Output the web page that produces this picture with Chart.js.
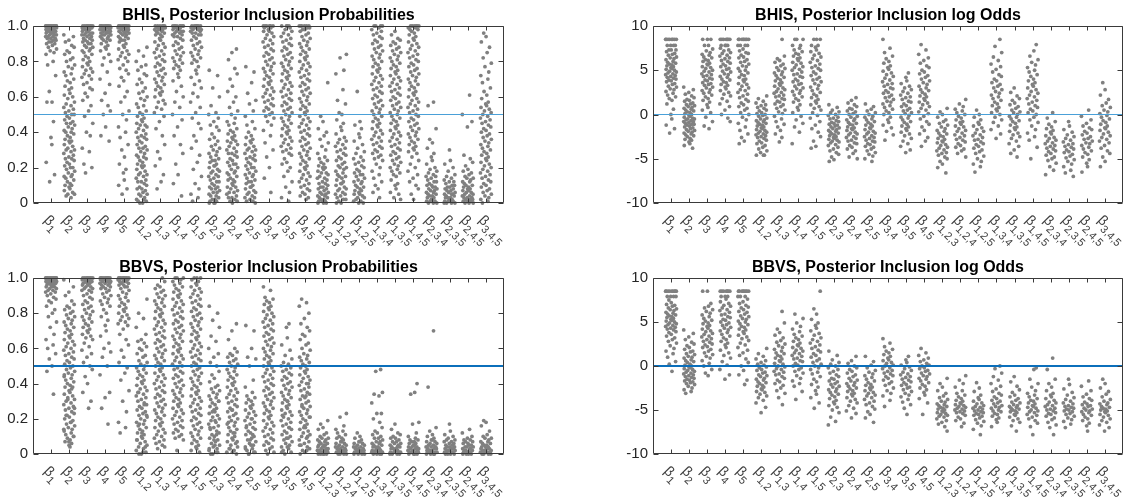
<!DOCTYPE html>
<html>
<head>
<meta charset="utf-8">
<title>Posterior inclusion</title>
<script src="https://cdn.jsdelivr.net/npm/chart.js@4.4.0/dist/chart.umd.min.js"></script>
<style>
  html, body { margin: 0; padding: 0; background: #fff; }
  #wrap { position: relative; width: 1127px; height: 501px; overflow: hidden; }
  #wrap canvas { position: absolute; }
</style>
</head>
<body>
<div id="wrap">
  <canvas id="bhisProbChart" width="563" height="250" style="left:0;top:0"></canvas>
  <canvas id="bhisOddsChart" width="564" height="250" style="left:563px;top:0"></canvas>
  <canvas id="bbvsProbChart" width="563" height="251" style="left:0;top:250px"></canvas>
  <canvas id="bbvsOddsChart" width="564" height="251" style="left:563px;top:250px"></canvas>
</div>
<script>
// subscripts of the model terms, in axis order
const terms = ['1','2','3','4','5','1,2','1,3','1,4','1,5','2,3','2,4','2,5','3,4','3,5','4,5',
  '1,2,3','1,2,4','1,2,5','1,3,4','1,3,5','1,4,5','2,3,4','2,3,5','2,4,5','3,4,5'];

const probTicks = [0, 0.2, 0.4, 0.6, 0.8, 1];
const oddsTicks = [-10, -5, 0, 5, 10];

// sideways offsets (in tick units) cycled through the replicates of a term
const jitter = [0.04,-0.27,0.19,-0.08,0.29,-0.17,0.1,-0.3,0.23,-0.02,-0.21,0.14,0.27,-0.12,0.01,
  -0.25,0.2,0.07,-0.15,0.3,-0.05,0.16,-0.28,0.11,-0.19,0.25,-0.1,0.05,-0.23,0.13,-0.01];

// BHIS posterior inclusion probabilities (percent), one list of replicates per term
const bhisProbPct = [
  [100,100,100,100,100,100,100,100,100,100,100,100,100,100,99,99,99,99,99,99,98,98,98,98,98,97,97,97,97,96,96,96,96,95,95,95,94,94,94,93,93,93,92,92,91,91,90,90,89,88,87,86,85,84,80,78,72,63,57,57,46,37,33,23,16,12],
  [95,94,92,91,89,88,86,85,84,82,81,80,78,77,76,74,73,72,70,69,68,66,65,64,62,61,60,59,57,56,55,54,53,52,51,50,50,49,48,47,46,45,45,44,43,42,41,40,40,39,38,37,36,35,35,34,33,32,31,30,30,29,28,27,26,25,25,24,23,22,21,20,20,19,18,17,16,15,15,14,13,12,11,10,10,9,8,7,6,5,5,4,3],
  [100,100,100,100,100,100,100,100,99,99,99,99,98,98,98,98,97,97,97,96,96,96,95,95,95,94,94,93,93,92,92,91,91,90,90,89,88,88,87,86,86,85,84,83,82,81,80,79,78,77,76,75,74,73,72,71,70,68,67,65,64,62,60,58,55,52,49,45,40,38,31,29,22,20,17],
  [100,100,100,100,100,100,100,100,100,100,100,100,99,99,99,99,99,98,98,98,98,97,97,97,97,96,96,96,95,95,95,94,94,93,93,92,92,91,90,89,88,87,86,84,82,80,78,74,70,67,62,58,55,52,50,43,38,35],
  [100,100,100,100,100,100,100,100,100,100,99,99,99,99,98,98,98,97,97,97,96,96,96,95,95,94,94,93,93,92,92,91,90,89,88,87,86,85,84,83,82,81,80,78,76,75,73,71,69,66,63,60,57,52,50,47,43,40,37,33,30,26,22,19,17,13,10,8,5],
  [88,86,83,80,78,77,75,73,72,70,68,67,65,63,62,60,59,58,56,55,54,52,51,50,49,48,47,46,45,44,44,43,42,41,40,39,38,37,37,36,35,34,33,32,31,31,30,29,28,27,26,26,25,24,23,22,21,21,20,19,18,17,16,16,15,14,13,12,12,11,10,9,8,8,7,6,5,5,4,3,2,2,1,1,0,0],
  [100,100,100,100,100,100,99,99,99,98,98,98,97,97,96,96,95,95,94,93,92,91,90,89,88,87,86,85,84,83,82,81,80,79,78,77,76,75,74,73,72,71,70,69,68,67,66,65,64,63,62,61,60,58,57,56,54,53,51,49,46,42,38,33,29,25,21,16,12,8],
  [100,100,100,100,100,100,100,100,99,99,99,99,98,98,98,97,97,97,96,96,95,95,94,94,93,92,91,90,89,88,87,86,85,84,83,82,81,80,79,78,77,76,75,73,71,69,66,63,60,57,54,50,47,43,38,33,28,22,16,11,4],
  [100,100,100,100,100,100,100,99,99,99,98,98,98,97,97,96,96,95,95,94,93,92,91,90,89,88,87,86,85,84,83,82,81,80,79,77,75,73,71,69,67,65,62,60,57,54,51,48,45,42,38,35,31,27,23,19,15,11,8,5,3,1],
  [75,72,65,60,55,51,50,48,46,44,43,41,39,37,36,35,33,32,31,30,29,28,27,26,25,24,24,23,22,21,21,20,19,18,18,17,16,15,15,14,13,12,12,11,10,9,9,8,8,7,6,6,5,4,4,3,2,2,1,1,0,0,0],
  [87,85,81,76,73,70,66,63,60,57,54,52,50,48,46,45,44,42,41,40,39,38,37,36,35,35,34,33,32,31,30,29,28,28,27,26,25,24,23,22,22,21,20,19,18,17,17,16,15,14,13,13,12,11,10,9,9,8,7,6,6,5,4,3,3,2,1,1,0],
  [77,74,68,62,58,56,52,49,46,44,42,40,38,37,36,35,34,33,32,31,30,30,29,28,27,26,25,25,24,23,22,21,20,20,19,18,17,16,16,15,14,13,12,12,11,10,9,9,8,7,6,6,5,4,3,3,2,1,1,0],
  [100,100,100,100,100,100,99,99,98,97,97,96,95,94,93,92,91,90,89,88,87,86,85,84,83,82,81,80,79,78,77,76,75,74,73,72,71,70,69,68,67,66,65,64,63,62,61,60,59,58,57,56,55,54,53,52,51,50,49,48,46,44,41,38,34,30,26,20,14,6],
  [100,100,100,100,99,98,97,96,95,94,93,92,91,90,89,88,87,86,85,84,83,82,81,80,79,78,77,76,75,74,73,72,71,70,69,68,67,66,65,64,63,62,61,60,59,58,57,56,55,54,53,52,51,50,49,48,47,46,45,44,43,42,41,40,39,38,37,36,35,34,33,32,31,30,29,28,27,25,23,22,20,18,15,12,9,6,3,1],
  [100,100,100,100,100,100,99,99,98,98,97,96,95,94,93,92,91,90,89,88,87,86,85,84,83,82,81,80,79,78,77,76,75,74,73,72,71,70,69,68,67,66,65,64,63,62,61,60,59,58,57,56,55,54,53,52,51,50,49,48,47,46,45,44,43,42,41,40,39,38,37,36,35,34,33,32,31,30,29,28,27,26,25,24,23,22,21,20,19,18,17,16,15,14,13,12,11,10,9,8,7,6,5,4,3,2],
  [68,49,46,42,40,38,36,34,32,30,28,26,25,24,23,22,21,20,20,19,18,17,17,16,15,14,14,13,12,11,11,10,9,9,8,8,7,6,6,5,5,4,4,3,3,2,2,1,1,1,0,0,0],
  [84,82,75,73,64,58,56,51,50,47,45,43,41,39,37,36,35,34,33,32,31,30,29,28,27,26,25,24,23,22,21,20,20,19,18,17,16,15,15,14,13,12,11,11,10,9,8,8,7,6,5,5,4,3,2,2,1,0,0],
  [63,46,44,42,39,37,35,33,31,29,28,26,25,24,23,22,21,20,19,18,17,16,16,15,14,13,12,12,11,10,9,9,8,7,7,6,5,5,4,3,3,2,1,1,0,0],
  [100,100,100,100,99,98,97,96,95,94,93,92,91,90,89,88,87,86,85,84,83,82,81,80,79,78,77,76,75,74,73,72,71,70,69,68,67,66,65,64,63,62,61,60,59,58,57,56,55,54,53,52,51,50,49,48,47,46,45,44,43,42,41,40,39,38,37,36,35,34,33,32,31,30,29,28,27,26,25,24,22,20,18,16,14,12,10,8,6,3],
  [97,95,93,92,91,90,89,88,87,86,85,84,83,82,81,80,79,78,77,76,75,74,73,72,71,70,69,68,67,66,65,64,63,62,61,60,59,58,57,56,55,54,53,52,51,50,49,48,47,46,45,44,43,42,41,40,39,38,37,36,35,34,33,32,31,30,29,28,27,26,25,24,23,22,21,20,19,18,17,16,15,13,11,10,8,6,5,3,2],
  [100,100,100,100,100,100,99,99,98,98,97,96,95,94,93,92,91,90,89,88,87,86,85,84,83,82,81,80,79,78,77,76,75,74,73,72,71,70,69,68,67,66,65,64,63,62,61,60,59,58,57,56,55,54,53,52,51,50,49,48,47,46,45,44,43,42,41,40,39,38,37,36,35,34,33,32,31,30,29,28,26,24,22,20,18,16,14,12,10,8,5,2],
  [57,55,42,36,34,31,28,26,24,22,20,19,18,17,16,15,15,14,13,12,12,11,10,10,9,9,8,8,7,7,6,6,5,5,4,4,3,3,2,2,1,1,1,0,0,0],
  [30,24,22,20,18,16,15,14,13,12,12,11,10,10,9,9,8,8,7,7,6,6,5,5,5,4,4,3,3,3,2,2,2,1,1,1,0,0,0,0],
  [61,50,46,43,27,25,23,21,19,18,17,16,15,14,14,13,12,12,11,10,10,9,9,8,8,7,7,6,6,5,5,4,4,3,3,3,2,2,2,1,1,1,0,0,0],
  [96,94,91,88,85,82,79,77,74,72,70,68,65,63,61,59,57,56,55,54,53,52,51,50,49,48,47,46,45,44,43,42,41,40,39,38,37,36,35,34,33,32,31,30,29,28,27,26,25,24,23,22,21,20,19,18,17,16,15,14,13,12,11,10,9,8,7,6,5,4,3,2,1,0]
];

// BHIS posterior inclusion log odds
const bhisLogOdds = [
  [8.5,8.5,8.5,8.5,8.5,8.5,8.5,8.5,7.8,7.8,7.8,7.8,7.3,7.3,7.3,7.1,6.9,6.8,6.7,6.5,6.4,6.3,6.2,6,5.9,5.8,5.7,5.6,5.5,5.4,5.3,5.2,5.1,5,4.9,4.8,4.7,4.6,4.5,4.4,4.3,4.2,4.1,4,3.9,3.8,3.7,3.5,3.4,3.2,3.1,2.9,2.8,2.6,2.4,2.2,2,1.8,1.6,1.2,0.6,0,-0.5,-1.2,-1.6,-2.1],
  [3.1,2.8,2.5,2.3,2.1,1.9,1.7,1.6,1.5,1.3,1.2,1.1,1,0.9,0.8,0.7,0.6,0.5,0.4,0.3,0.2,0.1,0,-0.1,-0.2,-0.3,-0.4,-0.5,-0.5,-0.6,-0.7,-0.8,-0.8,-0.9,-1,-1.1,-1.1,-1.2,-1.3,-1.4,-1.5,-1.6,-1.7,-1.8,-1.9,-2,-2.1,-2.2,-2.3,-2.4,-2.5,-2.7,-2.8,-2.9,-3.1,-3.3,-3.5,-3.8],
  [8.5,8.5,8.5,7.8,7.8,7.4,7.2,7,6.8,6.7,6.5,6.4,6.2,6.1,6,5.8,5.7,5.6,5.4,5.3,5.2,5,4.9,4.8,4.6,4.5,4.4,4.3,4.1,4,3.9,3.8,3.6,3.5,3.4,3.3,3.1,3,2.8,2.7,2.5,2.4,2.2,2,1.8,1.6,1.4,1.1,0.8,0.5,0.2,-0.3,-0.8,-1.3,-1.6],
  [8.5,8.5,8.5,8.5,8.5,8.5,8.5,7.8,7.8,7.8,7.8,7.5,7.3,7.2,7,6.9,6.7,6.6,6.4,6.3,6.1,6,5.8,5.7,5.5,5.4,5.2,5.1,4.9,4.8,4.6,4.5,4.3,4.2,4,3.9,3.7,3.6,3.4,3.3,3.1,2.9,2.7,2.5,2.3,2.1,1.8,1.5,1.2,0.9,0.5,0,-0.4,-0.8],
  [8.5,8.5,8.5,8.5,8.5,8.5,8.5,8.5,7.8,7.8,7.8,7.8,7.4,7.2,7,6.9,6.7,6.5,6.4,6.2,6,5.9,5.7,5.5,5.4,5.2,5,4.9,4.7,4.5,4.4,4.2,4,3.9,3.7,3.5,3.4,3.2,3,2.8,2.7,2.5,2.3,2.1,1.9,1.7,1.5,1.3,1.1,0.9,0.7,0.5,0.2,0,-0.3,-0.6,-1,-1.4,-1.8,-2.2,-2.6,-3,-3.3],
  [2.1,1.8,1.5,1.3,1.1,1,0.8,0.7,0.5,0.4,0.2,0.1,0,-0.1,-0.2,-0.4,-0.5,-0.6,-0.7,-0.8,-0.9,-1,-1.1,-1.2,-1.3,-1.4,-1.5,-1.6,-1.7,-1.8,-1.9,-2,-2.1,-2.2,-2.3,-2.4,-2.5,-2.6,-2.7,-2.9,-3,-3.2,-3.3,-3.5,-3.7,-3.9,-4.1,-4.3,-4.6,-4.6,-4.6],
  [8.5,6.6,6.3,6.1,5.9,5.7,5.5,5.3,5.2,5,4.8,4.7,4.5,4.4,4.2,4.1,3.9,3.8,3.6,3.5,3.3,3.2,3,2.9,2.8,2.6,2.5,2.4,2.2,2.1,2,1.8,1.7,1.5,1.4,1.2,1.1,0.9,0.7,0.5,0.3,0.1,-0.2,-0.5,-0.8,-1.1,-1.4,-1.8,-2.2,-2.6,-3.1],
  [8.5,8.5,8.5,7.8,7.8,7.5,7.3,7.1,6.9,6.8,6.6,6.4,6.3,6.1,5.9,5.8,5.6,5.4,5.3,5.1,5,4.8,4.6,4.5,4.3,4.2,4,3.8,3.7,3.5,3.4,3.2,3,2.9,2.7,2.6,2.4,2.2,2,1.8,1.6,1.4,1.1,0.8,0.5,0.2,-0.2,-0.6,-1,-1.4,-2,-3.3],
  [8.5,8.5,8.5,7.8,7.8,7.6,7.3,7.1,6.9,6.7,6.5,6.3,6.1,5.9,5.7,5.5,5.3,5.2,5,4.8,4.6,4.4,4.2,4,3.9,3.7,3.5,3.3,3.1,2.9,2.7,2.5,2.3,2.1,1.9,1.7,1.5,1.3,1.1,0.9,0.7,0.5,0.2,-0.1,-0.4,-0.8,-1.2,-1.6,-2,-2.5,-3,-3.6,-3.8],
  [1.1,0.8,0.5,0.3,0.2,0,-0.1,-0.3,-0.4,-0.5,-0.7,-0.8,-0.9,-1,-1.1,-1.2,-1.3,-1.4,-1.5,-1.6,-1.7,-1.8,-1.9,-2,-2.1,-2.2,-2.3,-2.4,-2.5,-2.6,-2.7,-2.8,-2.9,-3,-3.1,-3.2,-3.4,-3.5,-3.7,-3.9,-4.1,-4.3,-4.5,-4.8,-5.1,-5.3],
  [1.9,1.6,1.3,1.1,0.9,0.7,0.6,0.4,0.3,0.1,0,-0.2,-0.3,-0.5,-0.6,-0.7,-0.9,-1,-1.1,-1.2,-1.4,-1.5,-1.6,-1.7,-1.8,-2,-2.1,-2.2,-2.3,-2.5,-2.6,-2.7,-2.9,-3,-3.2,-3.3,-3.5,-3.7,-3.9,-4.1,-4.4,-4.8,-5],
  [1.2,0.9,0.6,0.4,0.2,0,-0.2,-0.3,-0.5,-0.6,-0.8,-0.9,-1.1,-1.2,-1.3,-1.5,-1.6,-1.7,-1.9,-2,-2.1,-2.2,-2.4,-2.5,-2.6,-2.7,-2.9,-3,-3.1,-3.3,-3.4,-3.6,-3.7,-3.9,-4.1,-4.3,-4.5,-4.7,-5,-5.3],
  [8.5,7.5,7,6.6,6.3,6,5.8,5.5,5.3,5.1,4.9,4.7,4.5,4.3,4.1,3.9,3.7,3.5,3.4,3.2,3,2.9,2.7,2.5,2.4,2.2,2,1.9,1.7,1.5,1.4,1.2,1,0.8,0.6,0.4,0.2,0,-0.3,-0.6,-0.9,-1.2,-1.5,-1.9,-2.3,-2.9],
  [4.7,4.2,3.8,3.5,3.2,3,2.8,2.6,2.4,2.2,2,1.9,1.7,1.5,1.4,1.2,1,0.9,0.7,0.5,0.4,0.2,0.1,-0.1,-0.3,-0.4,-0.6,-0.8,-0.9,-1.1,-1.3,-1.4,-1.6,-1.8,-2,-2.2,-2.4,-2.7,-3,-3.3,-3.6,-4,-4.3],
  [7.9,7.3,6.8,6.4,6.1,5.8,5.5,5.3,5,4.8,4.6,4.4,4.2,4,3.8,3.6,3.4,3.2,3,2.8,2.7,2.5,2.3,2.1,2,1.8,1.6,1.4,1.3,1.1,0.9,0.7,0.5,0.3,0.1,-0.2,-0.5,-0.8,-1.1,-1.4,-1.8,-2.2,-2.6,-3,-3.6],
  [0.7,0.3,0,-0.3,-0.6,-0.8,-1,-1.2,-1.4,-1.6,-1.8,-1.9,-2.1,-2.2,-2.4,-2.5,-2.7,-2.8,-3,-3.1,-3.2,-3.4,-3.5,-3.7,-3.8,-4,-4.1,-4.3,-4.4,-4.6,-4.8,-5,-5.3,-5.6,-6,-6.6],
  [1.7,1.2,0.9,0.6,0.4,0.2,0,-0.2,-0.4,-0.6,-0.8,-0.9,-1.1,-1.3,-1.4,-1.6,-1.8,-1.9,-2.1,-2.3,-2.4,-2.6,-2.8,-2.9,-3.1,-3.3,-3.5,-3.7,-3.9,-4.1,-4.4,-4.8],
  [0.5,0,-0.3,-0.6,-0.9,-1.1,-1.3,-1.5,-1.7,-1.9,-2.1,-2.3,-2.4,-2.6,-2.8,-2.9,-3.1,-3.3,-3.4,-3.6,-3.8,-4,-4.2,-4.4,-4.7,-5,-5.3,-5.6,-5.9,-6.5],
  [8.5,7.7,7,6.5,6.1,5.7,5.4,5.1,4.8,4.5,4.3,4,3.8,3.6,3.4,3.2,3,2.8,2.6,2.4,2.2,2,1.8,1.6,1.4,1.2,1,0.8,0.6,0.4,0.2,0,-0.3,-0.6,-0.9,-1.3,-1.7,-2.2,-2.7],
  [3,2.5,2.1,1.8,1.6,1.3,1.1,0.9,0.7,0.5,0.3,0.2,0,-0.2,-0.3,-0.5,-0.7,-0.8,-1,-1.2,-1.4,-1.5,-1.7,-1.9,-2.1,-2.3,-2.5,-2.7,-3,-3.3,-3.6,-4,-4.4,-4.8],
  [7.9,7.2,6.6,6.2,5.9,5.6,5.3,5,4.8,4.5,4.3,4,3.8,3.6,3.4,3.2,3,2.8,2.6,2.4,2.2,2,1.8,1.6,1.4,1.2,1,0.8,0.6,0.4,0.2,0,-0.3,-0.6,-0.9,-1.3,-1.7,-2.1,-2.5,-2.9,-3.7,-5],
  [0.2,-0.4,-0.8,-1.1,-1.4,-1.6,-1.8,-2,-2.2,-2.4,-2.6,-2.7,-2.9,-3,-3.2,-3.3,-3.5,-3.6,-3.8,-3.9,-4.1,-4.2,-4.4,-4.6,-4.8,-5,-5.2,-5.5,-5.9,-6.3,-6.8],
  [-0.8,-1.3,-1.7,-2,-2.3,-2.5,-2.7,-2.9,-3.1,-3.3,-3.4,-3.6,-3.7,-3.9,-4,-4.2,-4.3,-4.5,-4.7,-4.9,-5.1,-5.3,-5.6,-5.9,-6.3,-6.6,-7],
  [0.5,-0.2,-0.6,-1,-1.3,-1.5,-1.7,-1.9,-2.1,-2.3,-2.5,-2.7,-2.8,-3,-3.2,-3.3,-3.5,-3.7,-3.9,-4.1,-4.3,-4.5,-4.8,-5.1,-5.5,-5.9,-6.5],
  [3.6,2.8,2.2,1.7,1.3,1,0.8,0.5,0.3,0.1,-0.1,-0.3,-0.5,-0.7,-0.9,-1.1,-1.3,-1.5,-1.6,-1.8,-2,-2.2,-2.4,-2.6,-2.8,-3,-3.2,-3.5,-3.8,-4.1,-4.4,-4.8,-5.3,-5.9]
];

// BBVS posterior inclusion probabilities (percent)
const bbvsProbPct = [
  [100,100,100,100,100,100,100,100,100,100,100,100,100,99,99,99,99,99,99,98,98,98,98,98,97,97,97,97,96,96,96,95,95,95,94,94,93,93,92,92,91,90,89,88,87,86,84,82,80,78,75,72,68,65,62,60,57,54,50,47,34],
  [99,95,92,90,87,85,84,83,82,81,80,79,78,77,76,75,74,73,72,71,70,69,68,67,66,65,64,63,62,61,60,59,58,57,56,55,54,53,52,51,50,49,48,47,46,45,44,43,42,41,40,39,38,37,36,35,34,33,32,31,30,29,28,27,26,25,24,23,22,21,20,19,18,17,16,15,14,13,12,11,10,9,8,7,6,5,4,45,38,31,26,22,18,14,10,7],
  [100,100,100,100,100,100,100,100,99,99,99,98,98,98,97,97,97,96,96,95,95,94,94,93,93,92,91,90,89,88,87,86,85,84,83,82,81,80,79,78,77,76,75,74,73,72,71,70,69,68,67,66,65,63,61,59,57,55,52,50,48,44,40,35,30,26],
  [100,100,100,100,100,100,100,100,100,100,99,99,99,99,98,98,98,97,97,97,96,96,95,95,94,94,93,92,91,90,89,88,87,86,85,84,82,80,78,76,73,70,67,63,60,58,55,50,45,35,32,26,17],
  [100,100,100,100,100,100,100,100,100,99,99,99,98,98,98,97,97,96,96,95,95,94,93,92,91,90,89,88,87,86,85,84,83,82,81,80,79,78,77,76,75,74,73,71,68,65,62,59,55,52,49,46,42,36,30,24,18,15,12],
  [88,80,77,72,68,65,64,63,61,60,59,57,56,55,53,52,51,50,49,48,47,46,45,44,43,42,41,40,39,38,37,36,35,34,33,32,31,30,29,28,27,26,25,24,23,22,21,20,19,18,17,16,15,14,13,12,11,10,9,8,7,6,5,4,3,2,1,0,35,28,22,17,12,8,4,1,0],
  [100,98,96,95,94,93,92,91,90,89,88,87,86,85,84,83,82,81,80,79,78,77,76,75,74,73,72,71,70,69,68,67,66,65,64,63,62,61,60,59,58,57,56,55,54,53,52,51,50,49,48,47,46,45,44,43,42,41,40,39,38,37,36,35,34,33,32,31,30,29,28,27,26,25,24,23,22,21,20,19,18,17,16,15,14,13,12,11,10,9,8,7,6,5,4,3],
  [100,100,100,99,98,97,96,95,94,93,92,91,90,89,88,87,86,85,84,83,82,81,80,79,78,77,76,75,74,73,72,71,70,69,68,67,66,65,64,63,62,61,60,59,58,57,56,55,54,53,52,51,50,49,48,47,46,45,44,43,42,41,40,39,38,37,36,35,34,33,32,31,30,29,28,27,26,25,24,23,22,21,20,19,18,17,16,15,14,13,12,11,10,9,8,2],
  [100,100,100,99,98,97,96,95,94,93,92,91,90,89,88,87,86,85,84,83,82,81,80,79,78,77,76,75,74,73,72,71,70,69,68,67,66,65,64,63,62,61,60,59,58,57,56,55,54,53,52,51,50,49,48,47,46,45,44,43,42,41,40,39,38,37,36,35,34,33,32,31,30,29,28,27,26,25,24,23,22,21,20,19,18,17,16,15,14,13,12,11,10,9,8,7,6,5,4,3,2,1],
  [84,80,76,72,67,64,60,57,55,52,50,47,45,43,41,39,38,37,36,35,34,33,32,31,30,29,28,27,26,25,24,23,22,21,20,19,18,17,16,15,14,13,12,11,10,9,8,7,6,5,4,3,2,1,0,30,24,19,15,11,8,5,3,1,0],
  [74,70,65,60,58,57,56,55,54,53,52,51,50,49,48,47,46,45,44,43,42,41,40,39,38,37,36,35,34,33,32,31,30,29,28,27,26,25,24,23,22,21,20,19,18,17,16,15,14,13,12,11,10,9,8,7,6,5,4,3,2,1,0,25,18,12,7,3,1],
  [73,70,60,55,54,50,42,38,35,33,32,31,30,29,28,27,26,25,24,23,22,21,20,19,18,17,16,15,14,13,12,11,10,9,8,7,6,5,4,3,2,1,0,20,15,11,8,5,3,1,0],
  [95,93,89,88,87,86,85,84,83,82,81,80,79,78,77,76,75,74,73,72,71,70,69,68,67,66,65,64,63,62,61,60,59,58,57,56,55,54,53,52,51,50,49,48,47,46,45,44,43,42,41,40,39,38,37,36,35,34,33,32,31,30,29,28,27,26,25,24,23,22,21,20,19,18,17,16,15,14,13,12,11,10,9,8,7,6,5,4,3,2,1,0],
  [74,72,66,62,59,56,54,52,51,50,49,48,47,46,45,44,43,42,41,40,39,38,37,36,35,34,33,32,31,30,29,28,27,26,25,24,23,22,21,20,19,18,17,16,15,14,13,12,11,10,9,8,7,6,5,4,3,2,1,0,30,22,15,9,4,1],
  [88,86,84,80,77,74,72,70,68,67,65,63,62,60,59,57,56,55,54,53,52,51,50,49,48,47,46,45,44,43,42,41,40,39,38,37,36,35,34,33,32,31,30,29,28,27,26,25,24,23,22,21,20,19,18,17,16,15,14,13,12,11,10,9,8,7,6,5,4,3,2,1,0,40,33,27,21,15,10,5,2],
  [19,17,15,14,12,11,10,9,9,8,8,7,7,6,6,5,5,5,4,4,4,3,3,3,2,2,2,2,1,1,1,1,0,0,0,0,0],
  [23,21,16,14,13,12,11,10,9,9,8,7,7,6,6,5,5,4,4,4,3,3,3,2,2,2,1,1,1,1,0,0,0,0],
  [12,10,9,8,7,7,6,6,5,5,4,4,4,3,3,3,2,2,2,2,1,1,1,1,0,0,0,0],
  [48,47,35,34,33,29,23,23,20,18,15,13,12,11,10,9,9,8,7,7,6,6,5,5,4,4,4,3,3,3,2,2,2,1,1,1,1,0,0,0,0],
  [17,14,12,11,10,9,9,8,7,7,6,6,5,5,4,4,4,3,3,3,2,2,2,1,1,1,1,0,0,0,0],
  [40,35,34,18,17,12,10,9,8,8,7,7,6,6,5,5,4,4,4,3,3,3,2,2,2,1,1,1,1,0,0,0,0],
  [70,38,15,13,11,10,9,8,8,7,7,6,6,5,5,4,4,4,3,3,3,2,2,2,1,1,1,1,0,0,0,0],
  [17,13,11,10,9,8,8,7,7,6,6,5,5,4,4,4,3,3,3,2,2,2,1,1,1,1,0,0,0,0],
  [14,12,10,9,8,8,7,7,6,6,5,5,4,4,4,3,3,3,2,2,2,1,1,1,1,0,0,0,0],
  [19,18,16,13,11,10,9,9,8,7,7,6,6,5,5,4,4,4,3,3,3,2,2,2,1,1,1,1,0,0,0,0]
];

// BBVS posterior inclusion log odds
const bbvsLogOdds = [
  [8.5,8.5,8.5,8.5,8.5,8.5,8.5,8.5,8.5,7.9,7.9,7.9,7.9,7.5,7.2,7,6.9,6.8,6.6,6.5,6.4,6.3,6.1,6,5.9,5.8,5.7,5.6,5.5,5.4,5.3,5.2,5.1,5,4.9,4.8,4.7,4.6,4.5,4.4,4.3,4.2,4.1,3.9,3.8,3.6,3.4,3.2,3,2.8,2.6,2.3,2,1.7,1.4,1,0.5,0.2,-0.6],
  [4.1,3.7,3.3,3,2.7,2.5,2.3,2.1,1.9,1.7,1.6,1.4,1.3,1.1,1,0.9,0.7,0.6,0.5,0.4,0.2,0.1,0,-0.1,-0.2,-0.3,-0.4,-0.5,-0.6,-0.7,-0.8,-0.9,-1,-1.1,-1.2,-1.3,-1.4,-1.5,-1.6,-1.7,-1.8,-1.9,-2,-2.1,-2.3,-2.5,-2.7,-2.9,-3.1],
  [8.5,8.5,7.1,6.8,6.6,6.4,6.2,6,5.8,5.6,5.4,5.2,5.1,4.9,4.8,4.6,4.5,4.3,4.2,4,3.9,3.7,3.6,3.4,3.3,3.1,3,2.8,2.7,2.5,2.4,2.2,2.1,1.9,1.7,1.5,1.3,1.1,0.9,0.6,0.3,0,-0.4,-0.8,-1.1],
  [8.5,8.5,8.5,8.5,8.5,8.5,8.5,7.9,7.9,7.9,7.6,7.3,7.1,6.9,6.8,6.6,6.4,6.3,6.1,5.9,5.8,5.6,5.5,5.3,5.2,5,4.9,4.7,4.6,4.4,4.3,4.1,4,3.8,3.6,3.4,3.2,3,2.8,2.6,2.4,2.1,1.8,1.5,1.2,0.9,0.5,0.1,-0.4,-1,-1.5],
  [8.5,8.5,8.5,8.5,8.5,8.5,8.5,8.5,7.9,7.9,7.9,7.6,7.3,7.1,6.9,6.7,6.6,6.4,6.2,6.1,5.9,5.7,5.6,5.4,5.3,5.1,5,4.8,4.7,4.5,4.4,4.2,4.1,3.9,3.7,3.5,3.3,3.1,2.9,2.6,2.4,2.1,1.8,1.5,1.2,0.8,0.4,0,-0.5,-1,-1.6,-2.1],
  [2,1.4,1.1,0.8,0.6,0.4,0.2,0.1,-0.1,-0.2,-0.4,-0.5,-0.7,-0.8,-1,-1.1,-1.2,-1.4,-1.5,-1.6,-1.8,-1.9,-2,-2.2,-2.3,-2.4,-2.6,-2.7,-2.9,-3,-3.2,-3.4,-3.6,-3.9,-4.2,-4.7,-5.3],
  [6.2,4.9,4.2,3.8,3.5,3.2,2.9,2.7,2.5,2.3,2.1,1.9,1.7,1.5,1.4,1.2,1.1,0.9,0.8,0.6,0.5,0.3,0.2,0,-0.1,-0.3,-0.4,-0.6,-0.7,-0.9,-1,-1.2,-1.4,-1.6,-1.8,-2,-2.2,-2.5,-2.8,-3.1,-3.6,-4.4],
  [5.9,5.4,4.9,4.5,4.2,3.9,3.6,3.4,3.2,3,2.8,2.6,2.4,2.3,2.1,2,1.8,1.7,1.5,1.4,1.2,1.1,0.9,0.8,0.6,0.5,0.3,0.1,0,-0.2,-0.4,-0.6,-0.8,-1.1,-1.4,-1.7,-2,-2.3,-2.9,-3.8],
  [8.5,6.5,5.9,5.3,4.9,4.6,4.3,4,3.7,3.5,3.2,3,2.8,2.6,2.4,2.2,2,1.8,1.6,1.4,1.2,1,0.8,0.6,0.4,0.2,0,-0.2,-0.4,-0.7,-0.9,-1.2,-1.5,-1.8,-2.1,-2.4,-2.8,-3.2,-3.6,-4.2,-4.8],
  [1.7,1.2,0.7,0.4,0.2,0,-0.2,-0.4,-0.6,-0.8,-1,-1.2,-1.4,-1.5,-1.7,-1.8,-2,-2.1,-2.3,-2.4,-2.6,-2.7,-2.9,-3,-3.2,-3.3,-3.5,-3.7,-3.9,-4.1,-4.3,-4.5,-4.7,-5,-5.3,-5.8,-6.3,-6.7],
  [1.1,0.6,0.3,0,-0.2,-0.4,-0.6,-0.8,-1,-1.2,-1.4,-1.6,-1.7,-1.9,-2,-2.2,-2.3,-2.5,-2.6,-2.8,-2.9,-3.1,-3.2,-3.4,-3.6,-3.8,-4,-4.2,-4.5,-4.8,-5.1,-5.4,-5.9],
  [1.1,0.5,0.1,-0.2,-0.5,-0.7,-0.9,-1.1,-1.3,-1.5,-1.7,-1.9,-2.1,-2.2,-2.4,-2.5,-2.7,-2.8,-3,-3.1,-3.3,-3.4,-3.6,-3.8,-4,-4.2,-4.4,-4.6,-4.9,-5.2,-5.5,-5.9,-6.4],
  [3.1,2.6,2.2,1.9,1.7,1.5,1.3,1.1,0.9,0.7,0.6,0.4,0.3,0.1,0,-0.2,-0.3,-0.5,-0.6,-0.8,-0.9,-1.1,-1.2,-1.4,-1.6,-1.8,-2,-2.2,-2.5,-2.8,-3.1,-3.4,-3.9,-4.6],
  [1.1,0.7,0.4,0.1,-0.1,-0.3,-0.5,-0.7,-0.9,-1,-1.2,-1.3,-1.5,-1.6,-1.8,-1.9,-2.1,-2.2,-2.4,-2.5,-2.7,-2.9,-3.1,-3.3,-3.5,-3.8,-4.1,-4.4,-4.8,-5.5],
  [2,1.5,1.2,0.9,0.7,0.5,0.3,0.1,0,-0.2,-0.3,-0.5,-0.6,-0.8,-0.9,-1.1,-1.2,-1.4,-1.5,-1.7,-1.9,-2.1,-2.3,-2.5,-2.7,-3,-3.3,-3.7,-4.2,-5.5],
  [-1.4,-2,-2.4,-2.8,-3.1,-3.4,-3.6,-3.8,-4,-4.1,-4.3,-4.4,-4.5,-4.6,-4.7,-4.8,-4.9,-5,-5.1,-5.2,-5.3,-5.4,-5.5,-5.6,-5.7,-5.8,-6,-6.2,-6.4,-6.6,-6.9,-7.4],
  [-1.1,-1.6,-2,-2.4,-2.8,-3.1,-3.3,-3.5,-3.7,-3.9,-4,-4.2,-4.3,-4.4,-4.5,-4.6,-4.7,-4.8,-4.9,-5,-5.1,-5.2,-5.3,-5.4,-5.6,-5.8,-6,-6.2,-6.5,-6.9],
  [-1.9,-2.5,-2.9,-3.3,-3.6,-3.8,-4,-4.2,-4.3,-4.5,-4.6,-4.7,-4.8,-4.9,-5,-5.1,-5.2,-5.3,-5.4,-5.5,-5.6,-5.7,-5.9,-6.1,-6.3,-6.5,-6.8,-7.2,-7.8],
  [0,-0.3,-0.8,-1.2,-1.6,-2,-2.3,-2.6,-2.9,-3.1,-3.3,-3.5,-3.7,-3.9,-4,-4.2,-4.3,-4.5,-4.6,-4.7,-4.8,-5,-5.1,-5.2,-5.4,-5.5,-5.7,-5.9,-6.1,-6.4,-6.9],
  [-1.2,-1.8,-2.3,-2.7,-3,-3.3,-3.5,-3.7,-3.9,-4.1,-4.2,-4.4,-4.5,-4.6,-4.7,-4.8,-4.9,-5,-5.1,-5.2,-5.3,-5.5,-5.6,-5.8,-6,-6.2,-6.4,-6.8,-7.4],
  [-0.2,-0.4,-1.5,-2,-2.4,-2.8,-3.1,-3.3,-3.5,-3.7,-3.9,-4,-4.2,-4.3,-4.5,-4.6,-4.7,-4.8,-5,-5.1,-5.2,-5.3,-5.5,-5.6,-5.8,-6,-6.2,-6.5,-6.9,-7.8],
  [0.9,-0.4,-1.5,-2,-2.4,-2.8,-3.1,-3.3,-3.5,-3.7,-3.9,-4.1,-4.2,-4.4,-4.5,-4.6,-4.8,-4.9,-5,-5.1,-5.3,-5.4,-5.5,-5.7,-5.9,-6.1,-6.4,-6.7,-7,-7.8],
  [-1.5,-2.1,-2.6,-3,-3.3,-3.6,-3.8,-4,-4.2,-4.3,-4.5,-4.6,-4.7,-4.8,-4.9,-5,-5.1,-5.2,-5.4,-5.5,-5.7,-5.9,-6.1,-6.3,-6.6,-7],
  [-1.7,-2.3,-2.8,-3.2,-3.5,-3.7,-3.9,-4.1,-4.3,-4.4,-4.5,-4.6,-4.8,-4.9,-5,-5.1,-5.2,-5.3,-5.5,-5.6,-5.8,-6,-6.2,-6.5,-6.8,-7.4],
  [-1.5,-2,-2.5,-2.9,-3.2,-3.5,-3.8,-4,-4.2,-4.3,-4.4,-4.6,-4.7,-4.8,-4.9,-5,-5.1,-5.2,-5.3,-5.5,-5.6,-5.8,-6,-6.2,-6.4,-6.7,-7,-7.4]
];

const FONT = 'Arial, "Liberation Sans", Helvetica, sans-serif';

// place each term's replicates around its tick, offset by the jitter table
function stripPoints(groups, unit) {
  const pts = [];
  groups.forEach((vals, i) => {
    vals.forEach((v, j) => {
      const dx = jitter[(j + i * 7) % jitter.length];
      pts.push({ x: i + 1 + dx, y: v / unit });
    });
  });
  return pts;
}

// axes box with inward ticks, rotated beta labels and the panel title
const framePlugin = {
  id: 'frame',
  afterDraw(chart, args, opts) {
    const { ctx, chartArea: a, scales: { x, y } } = chart;
    ctx.save();
    ctx.strokeStyle = '#3a3a3a';
    ctx.lineWidth = 1;
    const L = Math.round(a.left) + 0.5, R = Math.round(a.right) - 0.5;
    const T = Math.round(a.top) + 0.5, B = Math.round(a.bottom) - 0.5;
    ctx.beginPath();
    ctx.rect(L, T, R - L, B - T);
    opts.yTicks.forEach(v => {
      const py = Math.round(y.getPixelForValue(v)) + 0.5;
      ctx.moveTo(L, py); ctx.lineTo(L + 5, py);
      ctx.moveTo(R, py); ctx.lineTo(R - 5, py);
    });
    terms.forEach((t, i) => {
      const px = Math.round(x.getPixelForValue(i + 1)) + 0.5;
      ctx.moveTo(px, B); ctx.lineTo(px, B - 4);
      ctx.moveTo(px, T); ctx.lineTo(px, T + 4);
    });
    ctx.stroke();

    ctx.fillStyle = '#404040';
    ctx.textAlign = 'left';
    ctx.textBaseline = 'alphabetic';
    terms.forEach((t, i) => {
      const px = x.getPixelForValue(i + 1);
      ctx.save();
      ctx.translate(px - 5, a.bottom + 15);
      ctx.rotate(Math.PI / 4);
      ctx.font = '14px ' + FONT;
      ctx.fillText('β', 0, 4);
      const w = ctx.measureText('β').width;
      ctx.font = '11px ' + FONT;
      ctx.fillText(t, w, 8.5);
      ctx.restore();
    });

    ctx.fillStyle = '#000';
    ctx.textAlign = 'center';
    ctx.font = 'bold 16px ' + FONT;
    ctx.fillText(opts.title, (a.left + a.right) / 2, a.top - 6);
    ctx.restore();
  }
};

function makePanel(canvasId, cfg) {
  return new Chart(document.getElementById(canvasId), {
    type: 'scatter',
    data: {
      datasets: [
        {
          type: 'line',
          data: [{ x: 0, y: cfg.ref }, { x: 26, y: cfg.ref }],
          borderColor: cfg.refColor,
          borderWidth: cfg.refWidth,
          pointRadius: 0,
          order: 0
        },
        {
          data: stripPoints(cfg.values, cfg.unit),
          backgroundColor: '#808080',
          borderWidth: 0,
          pointRadius: 1.9,
          clip: false,
          order: 1
        }
      ]
    },
    options: {
      responsive: false,
      animation: false,
      events: [],
      layout: { padding: cfg.padding },
      plugins: {
        legend: { display: false },
        tooltip: { enabled: false },
        frame: { title: cfg.title, yTicks: cfg.yTicks }
      },
      scales: {
        x: { type: 'linear', min: 0, max: 26, display: false },
        y: {
          min: cfg.yTicks[0],
          max: cfg.yTicks[cfg.yTicks.length - 1],
          afterBuildTicks: s => { s.ticks = cfg.yTicks.map(v => ({ value: v })); },
          afterFit: s => { s.width = 33; },
          grid: { display: false, drawTicks: false },
          border: { display: false },
          ticks: { color: '#262626', padding: 5, font: { family: FONT, size: 15 } }
        }
      }
    },
    plugins: [framePlugin]
  });
}

makePanel('bhisProbChart', {
  title: 'BHIS, Posterior Inclusion Probabilities', values: bhisProbPct, unit: 100, yTicks: probTicks,
  ref: 0.5, refColor: '#4aa0d8', refWidth: 1,
  padding: { top: 26, left: 0, right: 59, bottom: 47 }
});
makePanel('bhisOddsChart', {
  title: 'BHIS, Posterior Inclusion log Odds', values: bhisLogOdds, unit: 1, yTicks: oddsTicks,
  ref: 0, refColor: '#4aa0d8', refWidth: 1,
  padding: { top: 26, left: 57, right: 2, bottom: 47 }
});
makePanel('bbvsProbChart', {
  title: 'BBVS, Posterior Inclusion Probabilities', values: bbvsProbPct, unit: 100, yTicks: probTicks,
  ref: 0.5, refColor: '#0b6fbb', refWidth: 2,
  padding: { top: 28, left: 0, right: 59, bottom: 47 }
});
makePanel('bbvsOddsChart', {
  title: 'BBVS, Posterior Inclusion log Odds', values: bbvsLogOdds, unit: 1, yTicks: oddsTicks,
  ref: 0, refColor: '#0b6fbb', refWidth: 2,
  padding: { top: 28, left: 57, right: 2, bottom: 47 }
});
</script>
</body>
</html>
